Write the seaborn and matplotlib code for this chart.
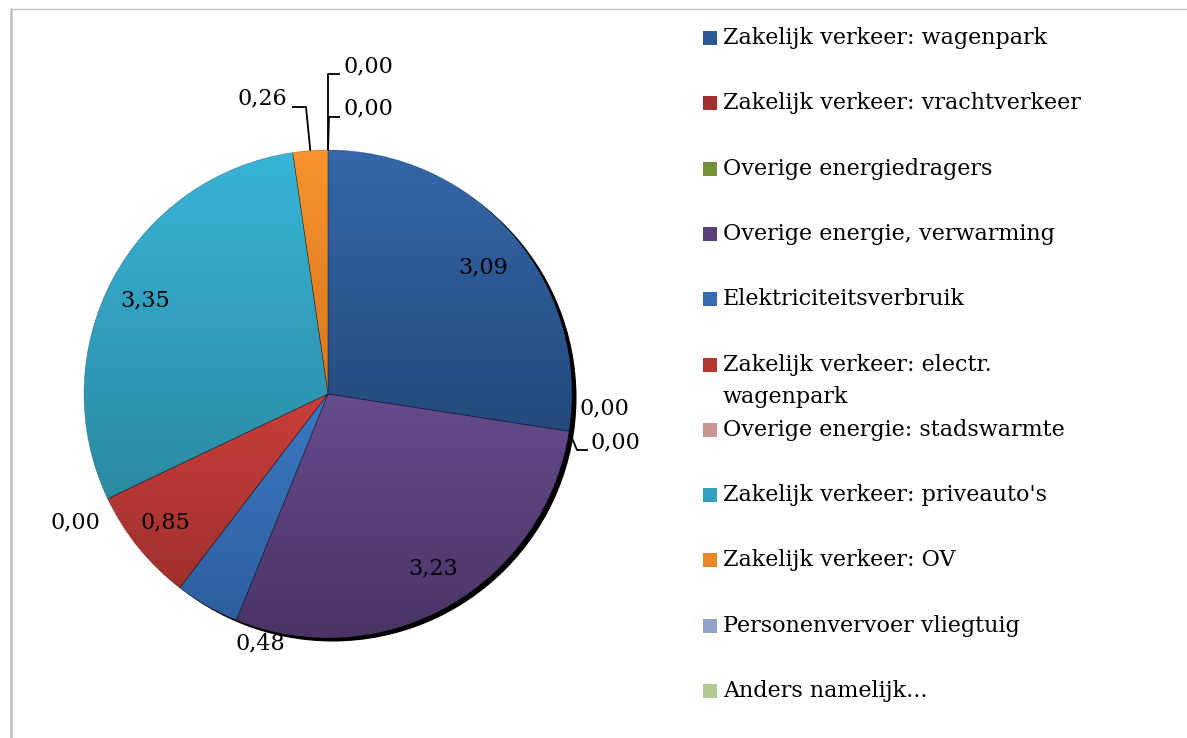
import numpy as np
import matplotlib
matplotlib.use("Agg")
import matplotlib.pyplot as plt
from matplotlib.patches import Circle, Rectangle
from matplotlib.lines import Line2D
from matplotlib.colors import to_rgb
import seaborn as sns

# ---------------- data ----------------
categories = [
    "Zakelijk verkeer: wagenpark",
    "Zakelijk verkeer: vrachtverkeer",
    "Overige energiedragers",
    "Overige energie, verwarming",
    "Elektriciteitsverbruik",
    "Zakelijk verkeer: electr.\nwagenpark",
    "Overige energie: stadswarmte",
    "Zakelijk verkeer: priveauto's",
    "Zakelijk verkeer: OV",
    "Personenvervoer vliegtuig",
    "Anders namelijk...",
]
values = [3.09, 0.00, 0.00, 3.23, 0.48, 0.85, 0.00, 3.35, 0.26, 0.00, 0.00]
value_labels = ["3,09", "0,00", "0,00", "3,23", "0,48", "0,85", "0,00", "3,35", "0,26", "0,00", "0,00"]

# gradient colours (top, bottom) per slice
top_colors = ["#3467A9", "#A8322F", "#7E9C40", "#664B8D", "#3B79C4", "#C93E3B",
              "#D9A2A2", "#38B4D7", "#F8932E", "#9DB1D8", "#C0D8A2"]
bottom_colors = ["#244A7D", "#982C2A", "#6C8835", "#4A3465", "#2E5E9F", "#A0302D",
                 "#B88686", "#2A8AA2", "#D8771F", "#8093BA", "#A2BA85"]

# ---------------- layout (pixels) ----------------
W, H = 1187, 738
CX, CY, R = 328, 394, 244

def P(x, y):
    return ((x - CX) / R, (CY - y) / R)

# text centres of the data labels
label_pos = [(483, 267), (604, 408), (615, 442), (433, 568), (260, 643), (165, 522),
             (75, 522), (145, 300), (262, 98), (368, 108), (368, 66)]
# leader lines: (elbow, end) in pixels, None = no leader
leaders = [None, None, ((577, 450), (588, 450)), None, None, None, None, None,
           ((306, 107), (292, 107)), ((329, 117), (340, 117)), ((328, 74), (340, 74))]

legend_x, legend_y0, legend_dy, line_h = 703, 38, 65.3, 32

# ---------------- style ----------------
sns.set_theme(style="white")
plt.rcParams["font.family"] = ["DejaVu Serif"]
FS = 16

fig = plt.figure(figsize=(W / 100, H / 100), dpi=100)
ax = fig.add_axes([0, 0, 1, 1])

mid_colors = [tuple((np.array(to_rgb(t)) + np.array(to_rgb(b))) / 2)
              for t, b in zip(top_colors, bottom_colors)]
palette = sns.color_palette(mid_colors)

# shadow
ax.add_patch(Circle((4.5 / R, -3.5 / R), 1.0, facecolor="black", edgecolor="none", zorder=1))

wedges, _ = ax.pie(values, colors=palette, startangle=90, counterclock=False,
                   radius=1, center=(0, 0),
                   wedgeprops=dict(linewidth=0.5, edgecolor=(0, 0, 0, 0.3)))

for i, w in enumerate(wedges):
    if values[i] <= 0:
        w.set_visible(False)
        continue
    w.set_zorder(3)
    t = np.radians(np.linspace(w.theta1, w.theta2, 200))
    xs = np.concatenate([[0], np.cos(t)])
    ys = np.concatenate([[0], np.sin(t)])
    c0 = np.array(to_rgb(top_colors[i]))
    c1 = np.array(to_rgb(bottom_colors[i]))
    f = np.linspace(0, 1, 256)[:, None]
    grad = (c0 * (1 - f) + c1 * f)[:, None, :]
    im = ax.imshow(grad, extent=[xs.min(), xs.max(), ys.min(), ys.max()],
                   origin="upper", aspect="auto", interpolation="bilinear", zorder=2)
    im.set_clip_path(w)
    w.set_facecolor("none")

# data labels and leader lines
for i, w in enumerate(wedges):
    tx, ty = P(*label_pos[i])
    ax.text(tx, ty, value_labels[i], fontsize=FS, ha="center", va="center",
            color="black", zorder=5)
    if leaders[i] is not None:
        ang = np.radians((w.theta1 + w.theta2) / 2)
        ax0, ay0 = np.cos(ang), np.sin(ang)
        (ex, ey), (fx, fy) = leaders[i]
        ex, ey = P(ex, ey)
        fx, fy = P(fx, fy)
        ax.plot([ax0, ex, fx], [ay0, ey, fy], color="black", lw=1.3, zorder=4,
                solid_capstyle="butt")

# legend
for i, name in enumerate(categories):
    yc = legend_y0 + i * legend_dy
    x0, y0 = P(legend_x, yc + 7)
    ax.add_patch(Rectangle((x0, y0), 14 / R, 14 / R, facecolor=palette[i],
                           edgecolor="none", zorder=5))
    for k, line in enumerate(name.split("\n")):
        lx, ly = P(legend_x + 20, yc + k * line_h)
        ax.text(lx, ly, line, fontsize=FS, ha="left", va="center", color="black")

ax.set_xlim(P(0, 0)[0], P(W, 0)[0])
ax.set_ylim(P(0, H)[1], P(0, 0)[1])
ax.set_aspect("auto")
ax.axis("off")

# chart area border (left and top)
fig.add_artist(Line2D([11 / W, 11 / W], [0, 1 - 9 / H], color="#BFBFBF", lw=1.8))
fig.add_artist(Line2D([11 / W, 1], [1 - 9 / H, 1 - 9 / H], color="#BFBFBF", lw=1.0))

fig.savefig("out.png", dpi=100)
